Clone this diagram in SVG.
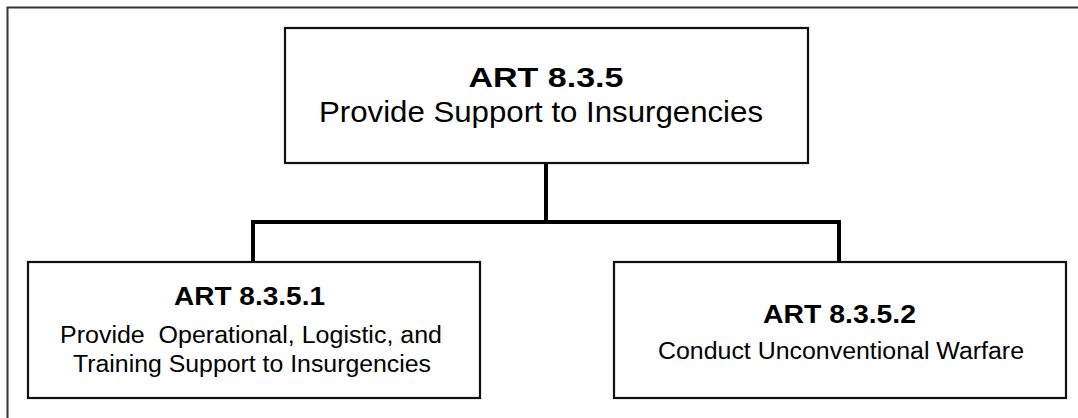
<svg xmlns="http://www.w3.org/2000/svg" width="1078" height="418" viewBox="0 0 1078 418">
<style>
.box{fill:#fff;stroke:#111;stroke-width:2.2}
.conn{fill:none;stroke:#000;stroke-width:4;stroke-linejoin:miter}
.frame{fill:none;stroke:#333;stroke-width:2}
text{font-family:"Liberation Sans",Arial,Helvetica,sans-serif;fill:#000;text-anchor:middle}
.t{font-weight:bold}
</style>
<rect width="1078" height="418" fill="#fff"/>
<path class="frame" d="M7.5,418 V7.5 H1078"/>
<g id="connectors">
<path class="conn" d="M546,163 V222"/>
<path class="conn" d="M253,262 V222 H839 V262"/>
</g>
<g id="node-art-8-3-5">
<rect class="box" x="285" y="28" width="523" height="135"/>
<text class="t" x="546" y="87" font-size="28" textLength="155" lengthAdjust="spacingAndGlyphs">ART 8.3.5</text>
<text x="541" y="122" font-size="29" textLength="444" lengthAdjust="spacingAndGlyphs">Provide Support to Insurgencies</text>
</g>
<g id="node-art-8-3-5-1">
<rect class="box" x="28" y="262" width="452" height="136"/>
<text class="t" x="249.5" y="305" font-size="25" textLength="151" lengthAdjust="spacingAndGlyphs">ART 8.3.5.1</text>
<text x="251" y="343" font-size="23" textLength="382" lengthAdjust="spacingAndGlyphs" xml:space="preserve">Provide  Operational, Logistic, and</text>
<text x="252" y="372" font-size="23" textLength="358" lengthAdjust="spacingAndGlyphs">Training Support to Insurgencies</text>
</g>
<g id="node-art-8-3-5-2">
<rect class="box" x="614" y="262" width="452" height="136"/>
<text class="t" x="839.5" y="323" font-size="25" textLength="153" lengthAdjust="spacingAndGlyphs">ART 8.3.5.2</text>
<text x="841" y="359" font-size="23" textLength="366" lengthAdjust="spacingAndGlyphs">Conduct Unconventional Warfare</text>
</g>
</svg>
